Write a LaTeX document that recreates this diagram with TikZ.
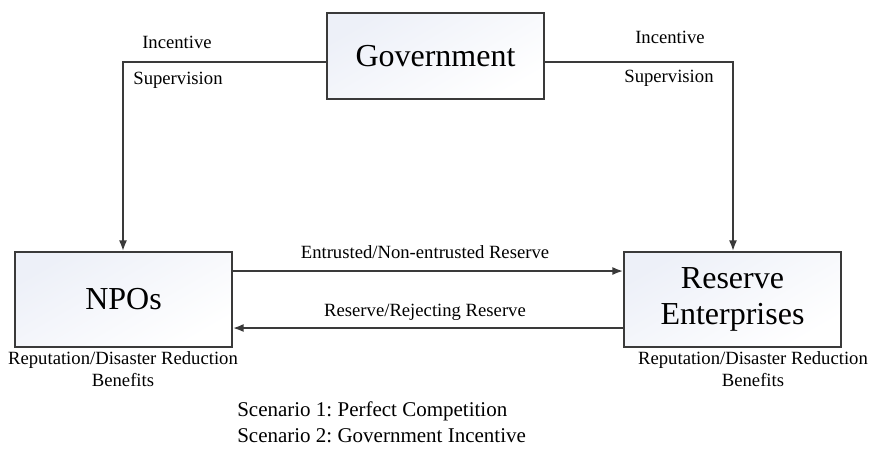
\documentclass[tikz,border=0pt]{standalone}
\usepackage{fontspec}
\setmainfont{Liberation Serif}
\usetikzlibrary{arrows.meta}
\definecolor{linec}{HTML}{3A3A3A}
\definecolor{boxtop}{HTML}{EDF0F8}
\begin{document}
\frenchspacing
\begin{tikzpicture}[x=0.75pt,y=-0.75pt,
  box/.style={draw=linec,line width=1.3pt,rectangle,minimum width=162.75pt,minimum height=71.25pt,
    left color=boxtop,right color=white,shading angle=30,inner sep=0pt,align=center,
    font=\fontsize{24}{26.5}\selectfont},
  conn/.style={draw=linec,line width=1.4pt,-{Latex[length=8pt,width=6pt]}},
  lbl/.style={font=\fontsize{14}{16.5}\selectfont,inner sep=0pt,align=center},
  scen/.style={font=\fontsize{15.75}{19}\selectfont,inner sep=0pt,anchor=west}]
\useasboundingbox (0,0) rectangle (869,455);
\fill[white] (0,0) rectangle (869,455);
\node[box,minimum height=64.5pt] (gov) at (435.5,56) {Government};
\node[box] (npo) at (123.5,299.5) {NPOs};
\node[box] (res) at (732.5,299.5) {Reserve\\Enterprises};
\coordinate (lc) at (123,62);
\coordinate (rc) at (733,62);
\draw[conn] (gov.west |- lc) -- (lc) -- (npo.north -| lc);
\draw[conn] (gov.east |- rc) -- (rc) -- (res.north -| rc);
\coordinate (a1) at (0,271);
\coordinate (a2) at (0,328);
\draw[conn] (npo.east |- a1) -- (res.west |- a1);
\draw[conn] (res.west |- a2) -- (npo.east |- a2);
\node[lbl] (inc1) at (177,42) {Incentive};
\node[lbl] (sup1) at (178,80) {Supervision};
\node[lbl] (inc2) at (670,37) {Incentive};
\node[lbl] (sup2) at (669,78) {Supervision};
\node[lbl] (ent) at (425,252) {Entrusted/Non-entrusted Reserve};
\node[lbl] (rej) at (425,312) {Reserve/Rejecting Reserve};
\node[lbl] (rep1) at (123,369) {Reputation/Disaster Reduction\\Benefits};
\node[lbl] (rep2) at (753,369) {Reputation/Disaster Reduction\\Benefits};
\node[scen] (s1) at (237,411) {Scenario 1: Perfect Competition};
\node[scen] (s2) at (237,436) {Scenario 2: Government Incentive};
\end{tikzpicture}
\end{document}
